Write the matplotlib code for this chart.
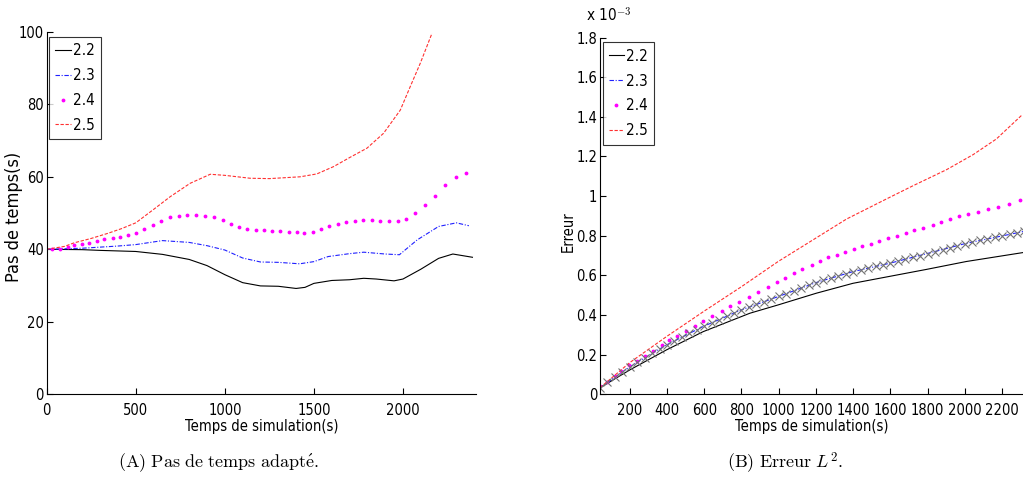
import matplotlib
matplotlib.use("Agg")
import matplotlib.pyplot as plt
from matplotlib.ticker import FuncFormatter
from matplotlib import font_manager as fm

plt.rcParams['mathtext.fontset'] = 'cm'

# ---------------- Left panel: Pas de temps (s) ----------------
t22 = [0, 200, 300, 500, 650, 800, 900, 1000, 1100, 1200, 1300, 1400, 1450, 1500,
       1600, 1700, 1780, 1850, 1950, 2000, 2100, 2200, 2280, 2390]
p22 = [40, 39.9, 39.7, 39.4, 38.6, 37.2, 35.5, 33.0, 30.8, 29.9, 29.8, 29.2, 29.5, 30.6,
       31.4, 31.6, 32.0, 31.8, 31.3, 31.8, 34.5, 37.5, 38.7, 37.8]

t23 = [0, 200, 400, 500, 650, 800, 900, 1000, 1100, 1200, 1300, 1420, 1500, 1580,
       1700, 1780, 1900, 1980, 2080, 2200, 2300, 2370]
p23 = [40, 40.3, 40.9, 41.3, 42.4, 41.9, 41.0, 39.8, 37.6, 36.5, 36.4, 36.0, 36.6, 38.0,
       38.8, 39.2, 38.7, 38.5, 42.6, 46.3, 47.3, 46.5]

t24 = [32, 75, 118, 155, 196, 240, 281, 324, 371, 412, 455, 502, 549, 595, 640, 693,
       740, 786, 839, 889, 940, 989, 1035, 1082, 1127, 1176, 1221, 1266, 1311, 1358,
       1404, 1447, 1494, 1541, 1586, 1635, 1682, 1728, 1775, 1826, 1873, 1919, 1970,
       2019, 2069, 2122, 2178, 2238, 2296, 2356]
p24 = [40.0, 40.0, 40.5, 41.2, 41.6, 41.8, 42.4, 42.8, 43.2, 43.5, 43.9, 44.4, 45.5,
       46.7, 47.8, 48.8, 49.3, 49.5, 49.5, 49.3, 48.8, 48.0, 47.1, 46.2, 45.7, 45.3,
       45.2, 45.1, 45.1, 44.8, 44.7, 44.4, 44.7, 45.7, 46.5, 47.0, 47.5, 47.8, 48.0,
       48.0, 47.8, 47.7, 47.7, 48.4, 49.9, 52.1, 54.8, 57.7, 59.9, 61.0]

t25 = [0, 100, 155, 250, 343, 420, 500, 600, 693, 805, 918, 1000, 1142, 1250, 1423,
       1517, 1610, 1704, 1798, 1891, 1985, 2041, 2097, 2163]
p25 = [40, 40.8, 41.8, 43.0, 44.4, 45.7, 47.3, 51.0, 54.5, 58.2, 60.7, 60.4, 59.6, 59.5,
       60.0, 60.8, 62.8, 65.4, 67.9, 72.0, 78.4, 84.9, 91.3, 99.6]

# ---------------- Right panel: Erreur (x 1e-3) ----------------
e_t22 = [40, 200, 397, 594, 845, 997, 1202, 1399, 1596, 1793, 2008, 2312]
e22 = [0.033, 0.123, 0.224, 0.316, 0.409, 0.451, 0.510, 0.560, 0.595, 0.630, 0.670, 0.715]

e_t23 = [40, 200, 397, 594, 800, 997, 1202, 1399, 1596, 1793, 2008, 2205, 2312]
e23 = [0.033, 0.139, 0.249, 0.342, 0.426, 0.493, 0.564, 0.619, 0.661, 0.709, 0.762, 0.800, 0.821]

e_t24 = [40, 75, 118, 155, 196, 240, 281, 324, 371, 412, 455, 502, 549, 595, 640, 693,
         740, 786, 839, 889, 940, 989, 1035, 1082, 1127, 1176, 1221, 1266, 1311, 1358,
         1404, 1447, 1494, 1541, 1586, 1635, 1682, 1728, 1775, 1826, 1873, 1919, 1970,
         2019, 2069, 2122, 2178, 2238, 2296]
e24 = [0.040, 0.063, 0.090, 0.116, 0.147, 0.170, 0.194, 0.220, 0.248, 0.272, 0.295,
       0.320, 0.345, 0.370, 0.393, 0.421, 0.445, 0.468, 0.493, 0.518, 0.542, 0.565,
       0.587, 0.610, 0.631, 0.654, 0.674, 0.691, 0.705, 0.718, 0.732, 0.746, 0.760,
       0.773, 0.786, 0.800, 0.813, 0.827, 0.841, 0.856, 0.869, 0.883, 0.897, 0.910,
       0.922, 0.935, 0.947, 0.962, 0.978]

e_t25 = [40, 200, 397, 600, 800, 997, 1364, 1569, 1721, 1901, 2044, 2169, 2303]
e25 = [0.033, 0.160, 0.291, 0.420, 0.543, 0.670, 0.884, 0.981, 1.052, 1.133, 1.209, 1.288, 1.406]

# reference solution (x markers)
e_tref = [40, 80, 120, 160, 200, 240, 280, 320, 360, 400, 440, 480, 520, 560, 600, 640,
          680, 720, 760, 800, 840, 880, 920, 960, 1000, 1040, 1080, 1120, 1160, 1200,
          1240, 1280, 1320, 1360, 1400, 1440, 1480, 1520, 1560, 1600, 1640, 1680, 1720,
          1760, 1800, 1840, 1880, 1920, 1960, 2000, 2040, 2080, 2120, 2160, 2200, 2240,
          2280, 2320]
eref = [0.033, 0.062, 0.088, 0.113, 0.139, 0.162, 0.185, 0.207, 0.228, 0.250, 0.270,
        0.289, 0.307, 0.325, 0.343, 0.360, 0.377, 0.393, 0.410, 0.426, 0.440, 0.454,
        0.467, 0.480, 0.494, 0.508, 0.522, 0.536, 0.550, 0.563, 0.575, 0.587, 0.598,
        0.609, 0.619, 0.628, 0.637, 0.645, 0.653, 0.662, 0.672, 0.682, 0.691, 0.700,
        0.710, 0.720, 0.730, 0.740, 0.750, 0.760, 0.768, 0.776, 0.784, 0.792, 0.800,
        0.807, 0.814, 0.822]

labels = ['2.2', '2.3', '2.4', '2.5']
xlabel = 'Temps de simulation(s)'


# ---- pick a narrow sans font if one is installed ----
def narrow_font(size):
    best = None
    for f in fm.fontManager.ttflist:
        fn = f.fname.lower()
        if ('narrow' in fn or 'condensed' in fn) and 'sans' in f.name.lower() \
                and f.style == 'normal' and f.weight in (400, 'normal', 'regular') \
                and 'mono' not in fn and 'bold' not in fn:
            best = f.fname
            break
    if best:
        return fm.FontProperties(fname=best, size=size)
    return fm.FontProperties(family=['Liberation Sans', 'DejaVu Sans'], size=size)


W, H = 1023, 484
fig = plt.figure(figsize=(W / 100, H / 100), dpi=100)


def px_axes(x0, y0, x1, y1):
    return fig.add_axes([x0 / W, 1 - y1 / H, (x1 - x0) / W, (y1 - y0) / H])


axL = px_axes(46.7, 31.8, 476, 394.3)
axR = px_axes(600, 37.5, 1023, 394.3)

tickfp = narrow_font(10.5)
labfp = narrow_font(10.5)
ylabfp = narrow_font(13)


def style(ax):
    for s in ['top', 'right']:
        ax.spines[s].set_visible(False)
    for s in ['left', 'bottom']:
        ax.spines[s].set_linewidth(0.8)
    ax.tick_params(direction='in', length=4, width=0.8)
    ax.tick_params(axis='x', pad=6)
    ax.tick_params(axis='y', pad=2)
    for lab in ax.get_xticklabels() + ax.get_yticklabels():
        lab.set_fontproperties(tickfp)


kw_dash = dict(color='#ff3030', lw=0.8, dashes=(3, 1.5))
kw_dd = dict(color='#2020ff', lw=0.8, dashes=(4, 1.5, 1, 1.5))

# left
axL.plot(t22, p22, color='black', lw=0.8, label=labels[0])
axL.plot(t23, p23, label=labels[1], **kw_dd)
axL.plot(t24, p24, ls='none', marker='.', ms=3.5, color='magenta', label=labels[2])
axL.plot(t25, p25, label=labels[3], **kw_dash)
axL.set_xlim(0, 2410)
axL.set_ylim(0, 100)
axL.set_xticks([0, 500, 1000, 1500, 2000])
axL.set_yticks([0, 20, 40, 60, 80, 100])
style(axL)
axL.set_xlabel(xlabel, fontproperties=labfp)
axL.xaxis.set_label_coords(0.5, -(427 - 394.3) / 362.5)
axL.xaxis.label.set_va('center')
axL.set_ylabel('Pas de temps(s)', fontproperties=ylabfp)
axL.yaxis.set_label_coords((14 - 46.7) / 429.3, (394.3 - 217) / 362.5)
axL.yaxis.label.set_va('center')

# right
axR.plot(e_t22, e22, color='black', lw=0.8, label=labels[0])
axR.plot(e_t23, e23, label=labels[1], **kw_dd)
axR.plot(e_t24, e24, ls='none', marker='.', ms=3.5, color='magenta', label=labels[2])
axR.plot(e_t25, e25, label=labels[3], **kw_dash)
axR.plot(e_tref, eref, ls='none', marker='x', ms=6, mew=0.8, color='0.45')
axR.set_xlim(40, 2312)
axR.set_ylim(0, 1.8)
axR.set_xticks(list(range(200, 2201, 200)))
axR.set_yticks([0, 0.2, 0.4, 0.6, 0.8, 1.0, 1.2, 1.4, 1.6, 1.8])
axR.yaxis.set_major_formatter(FuncFormatter(lambda v, p: ('%g' % round(v, 2))))
style(axR)
axR.set_xlabel(xlabel, fontproperties=labfp)
axR.xaxis.set_label_coords(0.5, -(427 - 394.3) / 356.8)
axR.xaxis.label.set_va('center')
axR.set_ylabel('Erreur', fontproperties=labfp)
axR.yaxis.set_label_coords((568 - 600) / 423, (394.3 - 232) / 356.8)
axR.yaxis.label.set_va('center')
fig.text(586 / W, 1 - 16 / H, r'x 10$^{-3}$', fontproperties=narrow_font(11),
         ha='left', va='center')

for ax in (axL, axR):
    leg = ax.legend(loc='upper left', bbox_to_anchor=(0.006, 0.986),
                    frameon=True, fancybox=False, borderaxespad=0, handlelength=1.0,
                    handletextpad=0.15, labelspacing=0.65, borderpad=0.4,
                    prop=narrow_font(11))
    leg.get_frame().set_edgecolor('black')
    leg.get_frame().set_linewidth(0.8)

fig.text(218 / W, 1 - 463 / H, r'$\mathrm{(A)\ Pas\ de\ temps\ adapt\acute{e}.}$',
         fontsize=13, ha='center', va='center')
fig.text(785 / W, 1 - 463 / H, r'$\mathrm{(B)\ Erreur\ }L^2\mathrm{.}$',
         fontsize=13, ha='center', va='center')

fig.savefig('out.png', dpi=100)
